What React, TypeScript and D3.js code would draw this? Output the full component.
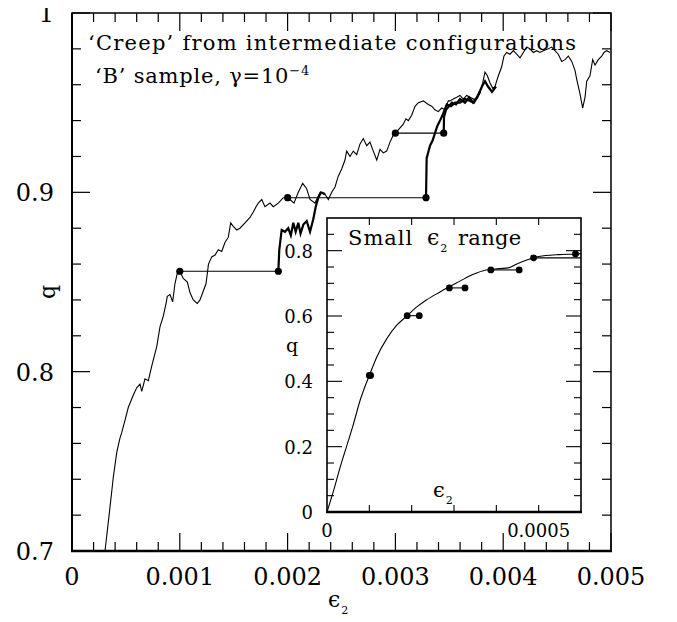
import React from "react";
import * as d3 from "d3";

// main run: strain eps_2 vs overlap q
const mainRun: [number, number][] = [
  [0.306e-3, 0.700], [0.346e-3, 0.721], [0.383e-3, 0.741], [0.415e-3, 0.755], [0.445e-3, 0.763],
  [0.461e-3, 0.766], [0.492e-3, 0.773], [0.522e-3, 0.780], [0.569e-3, 0.787], [0.600e-3, 0.791],
  [0.631e-3, 0.793], [0.647e-3, 0.789], [0.677e-3, 0.796], [0.708e-3, 0.795], [0.739e-3, 0.803],
  [0.786e-3, 0.814], [0.816e-3, 0.825], [0.847e-3, 0.831], [0.872e-3, 0.838], [0.884e-3, 0.842],
  [0.909e-3, 0.843], [0.934e-3, 0.839], [0.955e-3, 0.849], [0.977e-3, 0.855], [1.000e-3, 0.856],
  [1.032e-3, 0.852], [1.070e-3, 0.850], [1.095e-3, 0.844], [1.125e-3, 0.840], [1.162e-3, 0.838],
  [1.187e-3, 0.840], [1.218e-3, 0.845], [1.243e-3, 0.849], [1.266e-3, 0.860], [1.296e-3, 0.864],
  [1.327e-3, 0.865], [1.357e-3, 0.868], [1.389e-3, 0.867], [1.419e-3, 0.872], [1.450e-3, 0.875],
  [1.472e-3, 0.883], [1.496e-3, 0.881], [1.528e-3, 0.879], [1.558e-3, 0.880], [1.605e-3, 0.883],
  [1.651e-3, 0.886], [1.682e-3, 0.889], [1.707e-3, 0.892], [1.728e-3, 0.894], [1.760e-3, 0.896],
  [1.790e-3, 0.892], [1.837e-3, 0.894], [1.867e-3, 0.892], [1.914e-3, 0.894], [1.960e-3, 0.897],
  [2.000e-3, 0.897], [2.022e-3, 0.896], [2.059e-3, 0.894], [2.099e-3, 0.900], [2.140e-3, 0.905],
  [2.177e-3, 0.902], [2.208e-3, 0.896], [2.254e-3, 0.894], [2.301e-3, 0.900], [2.347e-3, 0.899],
  [2.378e-3, 0.896], [2.409e-3, 0.900], [2.440e-3, 0.903], [2.470e-3, 0.909], [2.502e-3, 0.913],
  [2.532e-3, 0.918], [2.548e-3, 0.923], [2.579e-3, 0.920], [2.609e-3, 0.923], [2.641e-3, 0.921],
  [2.672e-3, 0.927], [2.702e-3, 0.930], [2.734e-3, 0.926], [2.764e-3, 0.928], [2.795e-3, 0.923],
  [2.827e-3, 0.918], [2.857e-3, 0.924], [2.888e-3, 0.922], [2.919e-3, 0.923], [2.950e-3, 0.928],
  [2.981e-3, 0.932], [3.000e-3, 0.933], [3.043e-3, 0.936], [3.073e-3, 0.938], [3.098e-3, 0.941],
  [3.120e-3, 0.940], [3.151e-3, 0.943], [3.182e-3, 0.948], [3.213e-3, 0.950], [3.259e-3, 0.951],
  [3.305e-3, 0.949], [3.337e-3, 0.948], [3.367e-3, 0.946], [3.398e-3, 0.945], [3.429e-3, 0.947],
  [3.460e-3, 0.946], [3.491e-3, 0.951], [3.506e-3, 0.951], [3.537e-3, 0.952], [3.569e-3, 0.953],
  [3.599e-3, 0.954], [3.630e-3, 0.952], [3.661e-3, 0.954], [3.692e-3, 0.953], [3.723e-3, 0.952],
  [3.754e-3, 0.952], [3.785e-3, 0.956], [3.810e-3, 0.961], [3.831e-3, 0.967], [3.853e-3, 0.965],
  [3.878e-3, 0.961], [3.903e-3, 0.958], [3.924e-3, 0.959], [3.955e-3, 0.965], [3.986e-3, 0.970],
  [4.007e-3, 0.976], [4.032e-3, 0.978], [4.063e-3, 0.977], [4.094e-3, 0.979], [4.125e-3, 0.977],
  [4.156e-3, 0.975], [4.187e-3, 0.978], [4.218e-3, 0.981], [4.249e-3, 0.980], [4.279e-3, 0.978],
  [4.311e-3, 0.979], [4.341e-3, 0.978], [4.372e-3, 0.979], [4.418e-3, 0.980], [4.450e-3, 0.981],
  [4.480e-3, 0.979], [4.511e-3, 0.977], [4.543e-3, 0.973], [4.573e-3, 0.974], [4.604e-3, 0.976],
  [4.636e-3, 0.973], [4.666e-3, 0.968], [4.682e-3, 0.963], [4.712e-3, 0.955], [4.737e-3, 0.947],
  [4.759e-3, 0.953], [4.775e-3, 0.962], [4.805e-3, 0.965], [4.830e-3, 0.974], [4.852e-3, 0.971],
  [4.882e-3, 0.974], [4.914e-3, 0.976], [4.935e-3, 0.978], [4.960e-3, 0.979], [4.991e-3, 0.978],
];

// creep runs restarted from the intermediate configurations (thick lines)
const creepA: [number, number][] = [
  [1.914e-3, 0.856], [1.923e-3, 0.868], [1.945e-3, 0.879], [1.976e-3, 0.878], [2.006e-3, 0.880],
  [2.030e-3, 0.876], [2.053e-3, 0.883], [2.075e-3, 0.878], [2.099e-3, 0.883], [2.120e-3, 0.877],
  [2.146e-3, 0.882], [2.177e-3, 0.884], [2.208e-3, 0.878], [2.238e-3, 0.885], [2.261e-3, 0.892],
  [2.285e-3, 0.897], [2.310e-3, 0.900], [2.347e-3, 0.899],
];
const creepB: [number, number][] = [
  [3.284e-3, 0.897], [3.290e-3, 0.919], [3.321e-3, 0.926], [3.346e-3, 0.929], [3.367e-3, 0.933],
  [3.389e-3, 0.937], [3.414e-3, 0.940], [3.444e-3, 0.944], [3.476e-3, 0.949], [3.516e-3, 0.948],
  [3.553e-3, 0.950], [3.599e-3, 0.950], [3.646e-3, 0.952], [3.692e-3, 0.951], [3.729e-3, 0.950],
  [3.766e-3, 0.954], [3.803e-3, 0.959], [3.831e-3, 0.962], [3.859e-3, 0.959], [3.896e-3, 0.956],
  [3.933e-3, 0.959],
];
const creepC: [number, number][] = [
  [3.448e-3, 0.933], [3.451e-3, 0.942], [3.469e-3, 0.946], [3.497e-3, 0.948], [3.525e-3, 0.950],
  [3.562e-3, 0.949], [3.599e-3, 0.952], [3.646e-3, 0.950], [3.683e-3, 0.953], [3.720e-3, 0.950],
  [3.757e-3, 0.953], [3.785e-3, 0.956],
];
// [eps start, eps end, q]
const mainSteps: [number, number, number][] = [
  [1.0e-3, 1.914e-3, 0.856],
  [2.0e-3, 3.284e-3, 0.897],
  [3.0e-3, 3.448e-3, 0.933],
];

// inset: small eps_2 range
const insetRun: [number, number][] = [
  [0, 0], [0.157e-4, 0.066], [0.313e-4, 0.138], [0.47e-4, 0.204], [0.626e-4, 0.27],
  [0.783e-4, 0.342], [0.939e-4, 0.398], [1.0e-4, 0.418], [1.174e-4, 0.474], [1.409e-4, 0.53],
  [1.643e-4, 0.571], [1.894e-4, 0.601], [2.113e-4, 0.627], [2.348e-4, 0.649], [2.661e-4, 0.673],
  [2.895e-4, 0.69], [3.13e-4, 0.706], [3.443e-4, 0.727], [3.756e-4, 0.741], [4.069e-4, 0.745],
  [4.304e-4, 0.748], [4.46e-4, 0.758], [4.695e-4, 0.77], [4.875e-4, 0.778], [5.165e-4, 0.785],
  [5.478e-4, 0.788], [5.869e-4, 0.79], [6.0e-4, 0.791],
];
const insetSteps: [number, number, number][] = [
  [1.0e-4, 1.03e-4, 0.418],
  [1.894e-4, 2.18e-4, 0.601],
  [2.89e-4, 3.26e-4, 0.686],
  [3.87e-4, 4.54e-4, 0.741],
];
const insetTail: [number, number, number] = [4.88e-4, 6.0e-4, 0.778];
const insetEnd: [number, number] = [5.87e-4, 0.79];

const mainXTicks = ["0", "0.001", "0.002", "0.003", "0.004", "0.005"];
const mainYTicks = ["0.7", "0.8", "0.9", "1"];
const insetXTicks = ["0", "0.0005"];
const insetYTicks = ["0", "0.2", "0.4", "0.6", "0.8"];

const FONT = "'DejaVu Serif', serif";
const EPS = "\u03F5";

const x = d3.scaleLinear().domain([0, 0.005]).range([72, 611]);
const y = d3.scaleLinear().domain([0.7, 1]).range([551, 13]);
const xi = d3.scaleLinear().domain([0, 0.0006]).range([327, 581]);
const yi = d3.scaleLinear().domain([0, 0.9]).range([512, 218]);

const mainLine = d3.line<[number, number]>().x((d) => x(d[0])).y((d) => y(d[1]));
const insetLine = d3
  .line<[number, number]>()
  .x((d) => xi(d[0]))
  .y((d) => yi(d[1]))
  .curve(d3.curveMonotoneX);

function Eps({ px, py, size, sub }: { px: number; py: number; size: number; sub: number }) {
  return (
    <text x={px} y={py} fontFamily={FONT} fontSize={size}>
      {EPS}
      <tspan fontSize={sub} dx={1} dy={sub * 0.6}>2</tspan>
    </text>
  );
}

export default function App() {
  const xMinor = d3.range(0, 26).map((i) => i * 0.0002);
  const yMinor = d3.range(0, 16).map((i) => 0.7 + i * 0.02);
  const xiTicks = d3.range(1, 6).map((i) => i * 0.0001);
  const yiTicks = d3.range(1, 18).map((i) => i * 0.05);

  return (
    <svg width={677} height={622} style={{ display: "block", margin: "-8px" }}>
      <rect width={677} height={622} fill="white" />
      <defs>
        <clipPath id="mainClip">
          <rect x={72} y={13} width={539} height={538} />
        </clipPath>
      </defs>

      {/* main ticks */}
      <g stroke="black" strokeWidth={1.2}>
        {xMinor.map((v, i) => {
          const len = i % 5 === 0 ? 18 : 9;
          return (
            <g key={"xt" + i}>
              <line x1={x(v)} x2={x(v)} y1={551} y2={551 - len} />
              <line x1={x(v)} x2={x(v)} y1={13} y2={13 + len} />
            </g>
          );
        })}
        {yMinor.map((v, i) => {
          const len = i % 5 === 0 ? 18 : 9;
          return (
            <g key={"yt" + i}>
              <line x1={72} x2={72 + len} y1={y(v)} y2={y(v)} />
              <line x1={611} x2={611 - len} y1={y(v)} y2={y(v)} />
            </g>
          );
        })}
      </g>

      <g clipPath="url(#mainClip)" fill="none" stroke="black">
        <path d={mainLine(mainRun) ?? ""} strokeWidth={1.1} />
        <path d={mainLine(creepA) ?? ""} strokeWidth={2.2} />
        <path d={mainLine(creepB) ?? ""} strokeWidth={2.2} />
        <path d={mainLine(creepC) ?? ""} strokeWidth={2.2} />
        {mainSteps.map((s, i) => (
          <line key={"ms" + i} x1={x(s[0])} x2={x(s[1])} y1={y(s[2])} y2={y(s[2])} strokeWidth={1.1} />
        ))}
      </g>
      {mainSteps.map((s, i) => (
        <g key={"md" + i}>
          <circle cx={x(s[0])} cy={y(s[2])} r={3.6} />
          <circle cx={x(s[1])} cy={y(s[2])} r={3.6} />
        </g>
      ))}

      {/* main frame */}
      <rect x={72} y={13} width={539} height={538} fill="none" stroke="black" strokeWidth={1.5} />
      <line x1={71} x2={612} y1={551} y2={551} stroke="black" strokeWidth={2.5} />
      <line x1={72} x2={72} y1={13} y2={551} stroke="black" strokeWidth={2} />

      {/* main tick labels */}
      <g fontFamily={FONT} fontSize={24}>
        {mainXTicks.map((t) => (
          <text key={"xl" + t} x={x(+t)} y={585} textAnchor="middle">{t}</text>
        ))}
        {mainYTicks.map((t) => (
          <text key={"yl" + t} x={54} y={y(+t) + 9} textAnchor="end">{t}</text>
        ))}
      </g>
      <text
        transform={`translate(55,292) rotate(-90)`}
        fontFamily={FONT}
        fontSize={22}
        textAnchor="middle"
      >
        q
      </text>
      <Eps px={328} py={607} size={22} sub={11} />

      {/* annotations */}
      <text x={88} y={50} fontFamily={FONT} fontSize={21} letterSpacing={1.25}>
        ‘Creep’ from intermediate configurations
      </text>
      <text x={95} y={83} fontFamily={FONT} fontSize={21} letterSpacing={0.8}>
        ‘B’ sample, γ=10
        <tspan fontSize={13} dy={-8}>−4</tspan>
      </text>

      {/* inset */}
      <rect x={327} y={218} width={254} height={294} fill="white" />
      <g stroke="black" strokeWidth={1.1}>
        {xiTicks.map((v, i) => (
          <g key={"ixt" + i}>
            <line x1={xi(v)} x2={xi(v)} y1={512} y2={505} />
            <line x1={xi(v)} x2={xi(v)} y1={218} y2={225} />
          </g>
        ))}
        {yiTicks.map((v, i) => {
          const len = (i + 1) % 4 === 0 ? 15 : 7;
          return (
            <g key={"iyt" + i}>
              <line x1={327} x2={327 + len} y1={yi(v)} y2={yi(v)} />
              <line x1={581} x2={581 - len} y1={yi(v)} y2={yi(v)} />
            </g>
          );
        })}
      </g>
      <g fill="none" stroke="black" strokeWidth={1.1}>
        <path d={insetLine(insetRun) ?? ""} />
        {insetSteps.map((s, i) => (
          <line key={"is" + i} x1={xi(s[0])} x2={xi(s[1])} y1={yi(s[2])} y2={yi(s[2])} />
        ))}
        <line x1={xi(insetTail[0])} x2={xi(insetTail[1])} y1={yi(insetTail[2])} y2={yi(insetTail[2])} />
      </g>
      {insetSteps.map((s, i) => (
        <g key={"id" + i}>
          <circle cx={xi(s[0])} cy={yi(s[2])} r={3.4} />
          <circle cx={xi(s[1])} cy={yi(s[2])} r={3.4} />
        </g>
      ))}
      <circle cx={xi(insetTail[0])} cy={yi(insetTail[2])} r={3.4} />
      <circle cx={xi(insetEnd[0])} cy={yi(insetEnd[1])} r={3.4} />
      <rect x={327} y={218} width={254} height={294} fill="none" stroke="black" strokeWidth={1.6} />
      <line x1={326} x2={582} y1={512} y2={512} stroke="black" strokeWidth={2.5} />

      <g fontFamily={FONT} fontSize={18}>
        {insetXTicks.map((t) => (
          <text key={"ixl" + t} x={xi(+t)} y={537} textAnchor="middle">{t}</text>
        ))}
        {insetYTicks.map((t) => (
          <text key={"iyl" + t} x={313} y={yi(+t) + 7} textAnchor="end">{t}</text>
        ))}
        <text x={292} y={352} textAnchor="middle" fontSize={19}>q</text>
      </g>
      <Eps px={433} py={497} size={21} sub={11} />
      <text x={348} y={245} fontFamily={FONT} fontSize={21} letterSpacing={1}>
        Small
      </text>
      <Eps px={427} py={245} size={22} sub={11} />
      <text x={458} y={245} fontFamily={FONT} fontSize={21} letterSpacing={0.3}>
        range
      </text>
    </svg>
  );
}
